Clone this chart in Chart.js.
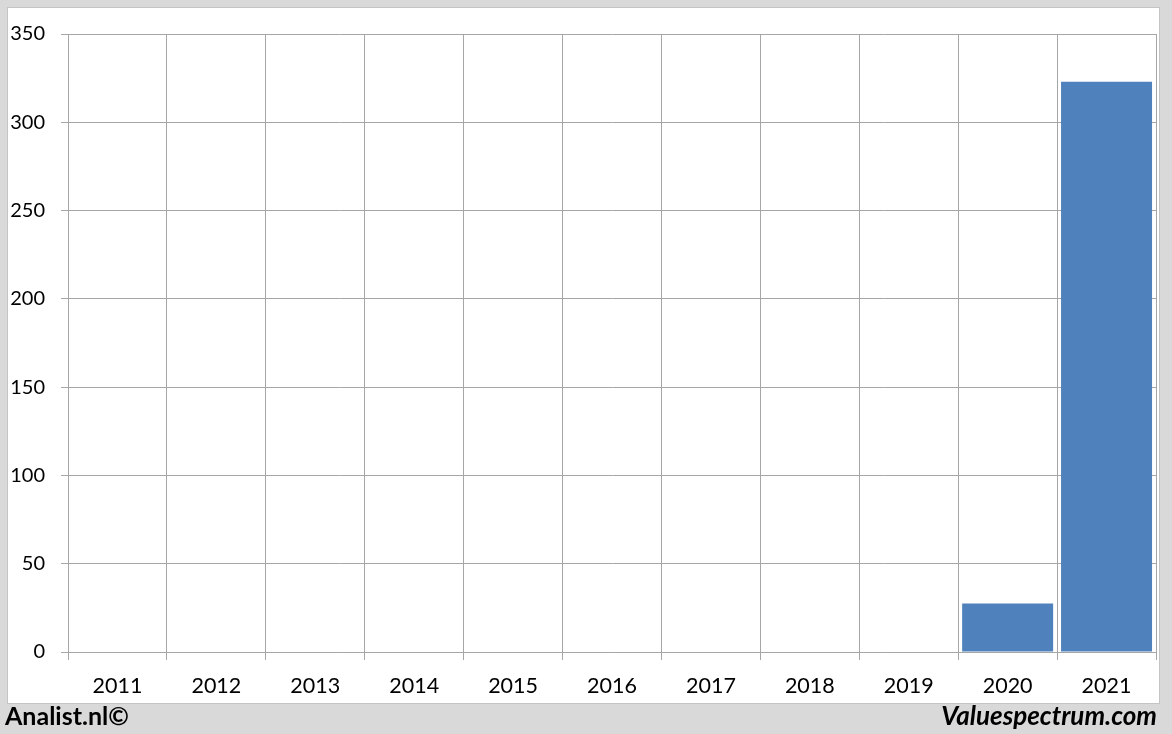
<!DOCTYPE html>
<html>
<head>
<meta charset="utf-8">
<script src="https://cdn.jsdelivr.net/npm/chart.js@4"></script>
<style>
  html, body { margin: 0; padding: 0; }
  body { width: 1172px; height: 734px; background: #d9d9d9; position: relative; overflow: hidden; font-family: Lato, "Open Sans", sans-serif; }
  #panel { position: absolute; left: 7px; top: 7px; width: 1151px; height: 695px; background: #fff; border: 1px solid #c4c4c4; }
  #chart { position: absolute; left: 0; top: 0; }
  .foot { position: absolute; top: 700px; font-size: 25px; font-weight: bold; color: #000; }
  #left { left: 5px; }
  #right { right: 15px; font-style: italic; font-size: 26px; top: 699px; }
</style>
</head>
<body>
<div id="panel"></div>
<canvas id="chart" width="1172" height="734"></canvas>
<div class="foot" id="left">Analist.nl©</div>
<div class="foot" id="right">Valuespectrum.com</div>
<script>
const years = ['2011', '2012', '2013', '2014', '2015', '2016', '2017', '2018', '2019', '2020', '2021'];
const values = [0, 0, 0, 0, 0, 0, 0, 0, 0, 27.5, 323];
const yTicks = [0, 50, 100, 150, 200, 250, 300, 350];

const gridColor = '#a6a6a6';

const chart = new Chart(document.getElementById('chart').getContext('2d'), {
  type: 'bar',
  data: {
    labels: years,
    datasets: [{
      data: values,
      backgroundColor: '#4f81bd',
      borderWidth: 0,
      barPercentage: 0.92,
      categoryPercentage: 1.0
    }]
  },
  options: {
    responsive: false,
    animation: false,
    devicePixelRatio: 1,
    layout: { padding: { top: 34, right: 16, left: 0, bottom: 29 } },
    plugins: {
      legend: { display: false },
      tooltip: { enabled: false }
    },
    scales: {
      x: {
        grid: { color: gridColor, lineWidth: 1, tickLength: 8, offset: true },
        border: { color: gridColor },
        ticks: { color: '#000', font: { family: 'Lato', size: 21.5 }, padding: 13, maxRotation: 0, autoSkip: false },
        afterFit: (scale) => { scale.height = 53; }
      },
      y: {
        min: 0,
        max: 350,
        afterBuildTicks: (scale) => { scale.ticks = yTicks.map(v => ({ value: v })); },
        grid: { color: gridColor, lineWidth: 1, tickLength: 7 },
        border: { color: gridColor },
        ticks: { color: '#000', font: { family: 'Lato', size: 20 }, padding: 16, autoSkip: false },
        afterFit: (scale) => { scale.width = 68; }
      }
    }
  }
});
</script>
</body>
</html>
